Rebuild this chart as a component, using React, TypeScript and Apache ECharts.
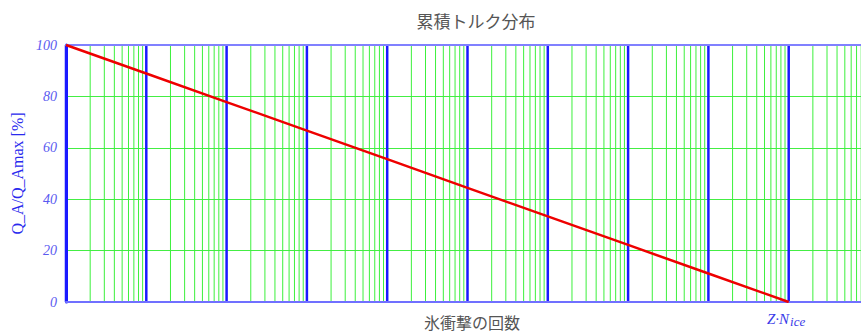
import React, { useEffect, useRef } from "react";
import * as echarts from "echarts";

const TITLE = "累積トルク分布";
const X_NAME = "氷衝撃の回数";
const Y_NAME = "Q_A/Q_Amax [%]";
// cumulative torque distribution: x = number of impacts (log), y = Q_A/Q_Amax [%]
const impacts = [1, 1e1, 1e2, 1e3, 1e4, 1e5, 1e6, 1e7, 1e8, 1e9];
const torquePct = [100, 88.9, 77.8, 66.7, 55.6, 44.4, 33.3, 22.2, 11.1, 0];
const yTicks = [0, 20, 40, 60, 80, 100];
const decades = [1, 1e1, 1e2, 1e3, 1e4, 1e5, 1e6, 1e7, 1e8, 1e9, 1e10];
const minorFactors = [2, 3, 4, 5, 6, 7, 8, 9];

export default function App() {
  const ref = useRef<HTMLDivElement>(null);
  useEffect(() => {
    document.body.style.margin = "0";
    const chart = echarts.init(ref.current!, null, { renderer: "svg" });
    const gridLines: number[][] = [];
    decades.forEach((d, i) => {
      gridLines.push([d, 1]);
      if (i < decades.length - 1) minorFactors.forEach((f) => gridLines.push([d * f, 0]));
    });
    chart.setOption({
      animation: false,
      title: {
        text: TITLE,
        left: 471,
        textAlign: "center",
        top: 7,
        textStyle: { fontFamily: "Noto Sans CJK JP", fontSize: 17, fontWeight: "normal", color: "#555555" },
      },
      grid: { left: 66, top: 45, width: 803, height: 257 },
      xAxis: [
        {
          type: "log",
          logBase: 10,
          min: 1,
          max: 1e10,
          z: 2,
          axisLine: { show: true, lineStyle: { color: "#7070ff", width: 2 } },
          axisTick: { show: false },
          axisLabel: { show: false },
          splitLine: { show: false },
        },
        {
          type: "log",
          logBase: 10,
          min: 1,
          max: 1e10,
          position: "top",
          z: 2,
          axisLine: { show: true, onZero: false, lineStyle: { color: "#8080ff", width: 2 } },
          axisTick: { show: false },
          axisLabel: { show: false },
          splitLine: { show: false },
        },
      ],
      yAxis: {
        type: "value",
        min: yTicks[0],
        max: yTicks[yTicks.length - 1],
        interval: 20,
        z: 0,
        name: Y_NAME,
        nameLocation: "middle",
        nameRotate: 90,
        nameGap: 40,
        nameTextStyle: { fontFamily: "Liberation Serif", fontSize: 16, color: "#2a2aee" },
        axisLine: { show: true, lineStyle: { color: "#1a1aff", width: 3 } },
        axisTick: { show: false },
        axisLabel: {
          margin: 9,
          fontFamily: "Liberation Serif",
          fontStyle: "italic",
          fontSize: 14,
          color: "#5a5af0",
        },
        splitLine: { show: true, lineStyle: { color: "#44ee44", width: 1 } },
      },
      graphic: [
        {
          type: "text",
          left: 472 - 48,
          top: 313,
          style: {
            text: X_NAME,
            fontFamily: "Noto Sans CJK JP",
            fontSize: 16,
            lineHeight: 18,
            fill: "#555555",
          },
        },
        {
          type: "text",
          left: 767,
          top: 309,
          style: {
            text: "{a|Z·N}{b|ice}",
            rich: {
              a: { fontFamily: "Liberation Serif", fontStyle: "italic", fontSize: 15, fill: "#3a3ae8", lineHeight: 19 },
              b: { fontFamily: "Liberation Serif", fontStyle: "italic", fontSize: 13, fill: "#3a3ae8", padding: [6, 0, 0, 1], lineHeight: 19 },
            },
          },
        },
      ],
      series: [
        {
          type: "custom",
          z: 1,
          silent: true,
          data: gridLines,
          renderItem: (params: any, api: any) => {
            const x = api.value(0);
            const major = api.value(1) === 1;
            const p1 = api.coord([x, 0]);
            const p2 = api.coord([x, 100]);
            return {
              type: "line",
              shape: { x1: p1[0], y1: p1[1], x2: p2[0], y2: p2[1] },
              style: { stroke: major ? "#1a1aff" : "#3cf03c", lineWidth: major ? 2.5 : 1 },
            };
          },
        },
        {
          type: "line",
          z: 3,
          data: impacts.map((x, i) => [x, torquePct[i]]),
          symbol: "none",
          lineStyle: { color: "#ee0000", width: 2.5 },
        },
      ],
    });
    return () => chart.dispose();
  }, []);
  return (
    <div style={{ width: 861, height: 333, overflow: "hidden", position: "relative" }}>
      <div ref={ref} style={{ width: 900, height: 333 }} />
    </div>
  );
}
